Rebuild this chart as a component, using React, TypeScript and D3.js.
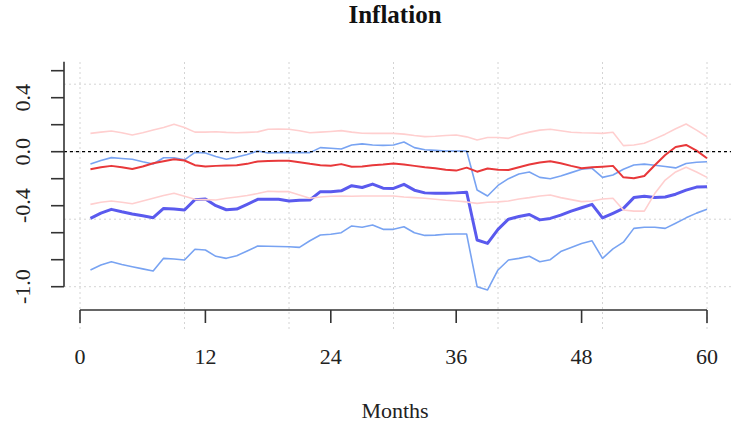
import React from "react";
import * as d3 from "d3";

const months: number[] = d3.range(1, 61);

const redMedian = [
  -0.13, -0.115, -0.105, -0.115, -0.128, -0.11, -0.085, -0.07, -0.056, -0.065,
  -0.1, -0.11, -0.105, -0.102, -0.1, -0.09, -0.072, -0.068, -0.067, -0.067,
  -0.078, -0.09, -0.1, -0.104, -0.092, -0.112, -0.11, -0.1, -0.095, -0.088,
  -0.095, -0.105, -0.115, -0.122, -0.133, -0.14, -0.118, -0.148, -0.125, -0.133,
  -0.136, -0.115, -0.095, -0.08, -0.07, -0.085, -0.105, -0.123, -0.116, -0.111,
  -0.105, -0.19, -0.197, -0.18, -0.1, -0.025, 0.035, 0.05, 0.008, -0.049,
];

const redUpper = [
  0.136, 0.145, 0.153, 0.14, 0.124, 0.14, 0.16, 0.18, 0.203, 0.18,
  0.145, 0.145, 0.148, 0.143, 0.14, 0.143, 0.147, 0.166, 0.168, 0.166,
  0.155, 0.14, 0.145, 0.15, 0.156, 0.145, 0.137, 0.136, 0.136, 0.136,
  0.13, 0.12, 0.112, 0.115, 0.12, 0.124, 0.11, 0.087, 0.105, 0.105,
  0.099, 0.125, 0.145, 0.16, 0.166, 0.155, 0.144, 0.14, 0.138, 0.136,
  0.144, 0.045, 0.05, 0.062, 0.095, 0.13, 0.17, 0.205, 0.16, 0.111,
];

const redLower = [
  -0.39, -0.375, -0.365, -0.375, -0.385, -0.365, -0.345, -0.325, -0.308, -0.33,
  -0.353, -0.355, -0.358, -0.345, -0.335, -0.325, -0.31, -0.293, -0.296, -0.296,
  -0.32, -0.345, -0.335, -0.33, -0.328, -0.33, -0.328, -0.328, -0.328, -0.328,
  -0.335, -0.34, -0.345, -0.352, -0.36, -0.365, -0.372, -0.383, -0.375, -0.372,
  -0.365, -0.35, -0.34, -0.328, -0.321, -0.34, -0.355, -0.37, -0.365, -0.35,
  -0.345, -0.432, -0.44, -0.44, -0.31, -0.21, -0.15, -0.115, -0.15, -0.19,
];

const blueMedian = [
  -0.494, -0.455, -0.427, -0.445, -0.461, -0.475, -0.489, -0.42, -0.425, -0.432,
  -0.355, -0.35, -0.4, -0.43, -0.425, -0.39, -0.353, -0.353, -0.353, -0.365,
  -0.36, -0.358, -0.296, -0.296, -0.29, -0.252, -0.265, -0.24, -0.27, -0.272,
  -0.242, -0.285, -0.305, -0.308, -0.308, -0.305, -0.3, -0.654, -0.679, -0.575,
  -0.5, -0.48, -0.465, -0.505, -0.494, -0.47, -0.44, -0.415, -0.39, -0.49,
  -0.456, -0.42, -0.34, -0.33, -0.34, -0.335, -0.315, -0.285, -0.262, -0.259,
];

const blueUpper = [
  -0.091, -0.065, -0.044, -0.05, -0.056, -0.075, -0.091, -0.045, -0.045, -0.06,
  -0.005, -0.01, -0.035, -0.056, -0.04, -0.02, 0.005, -0.01, -0.007, -0.005,
  -0.007, -0.007, 0.03, 0.025, 0.02, 0.05, 0.058, 0.05, 0.047, 0.05,
  0.072, 0.03, 0.015, 0.01, 0.005, 0.005, 0.005, -0.284, -0.328, -0.25,
  -0.2, -0.165, -0.15, -0.19, -0.2, -0.18, -0.155, -0.13, -0.123, -0.19,
  -0.173, -0.13, -0.099, -0.092, -0.1, -0.11, -0.12, -0.088, -0.078, -0.074,
];

const blueLower = [
  -0.876, -0.84, -0.815, -0.835, -0.852, -0.868, -0.884, -0.79, -0.795, -0.802,
  -0.723, -0.728, -0.775, -0.79, -0.77, -0.735, -0.699, -0.7, -0.702, -0.704,
  -0.709, -0.66, -0.617, -0.612, -0.6, -0.55, -0.56, -0.543, -0.575, -0.575,
  -0.556, -0.6, -0.62, -0.618, -0.612, -0.61, -0.61, -1.0, -1.024, -0.876,
  -0.802, -0.79, -0.775, -0.815, -0.8, -0.74, -0.71, -0.68, -0.66, -0.79,
  -0.72, -0.67, -0.568, -0.56, -0.56, -0.568, -0.53, -0.49, -0.455, -0.427,
];

const xTicks = [0, 12, 24, 36, 48, 60];
const xGrid = [0, 10, 20, 30, 40, 50, 60];
const yTicks = [0.6, 0.4, 0.2, 0.0, -0.2, -0.4, -0.6, -0.8, -1.0];
const yLabels = [0.4, 0.0, -0.4, -1.0];
const yGrid = [0.5, 0.0, -0.5, -1.0];

const W = 741;
const H = 435;

export default function App() {
  const x = d3.scaleLinear().domain([0, 60]).range([80, 707]);
  const y = d3.scaleLinear().domain([0, -1]).range([151.7, 286.7]);
  const line = (vals: number[]) =>
    d3
      .line<number>()
      .x((_, i) => x(months[i]))
      .y((v) => y(v))(vals) as string;

  const serif = "'Liberation Serif', 'Times New Roman', serif";
  const series = [
    { vals: blueUpper, color: "#78a3f2", w: 1.6 },
    { vals: blueLower, color: "#78a3f2", w: 1.6 },
    { vals: blueMedian, color: "#5a5aee", w: 3 },
    { vals: redUpper, color: "#ffcfcf", w: 1.6 },
    { vals: redLower, color: "#ffcfcf", w: 1.6 },
    { vals: redMedian, color: "#e8383a", w: 2 },
  ];

  return (
    <svg
      width={W}
      height={H}
      style={{ position: "absolute", left: 0, top: 0, background: "#fff" }}
    >
      <rect x={0} y={0} width={W} height={H} fill="#fff" />
      {xGrid.map((g) => (
        <line
          key={"xg" + g}
          x1={x(g)}
          x2={x(g)}
          y1={62}
          y2={330}
          stroke="#d4d4d4"
          strokeWidth={1}
          strokeDasharray="2,3"
        />
      ))}
      {yGrid.map((g) => (
        <line
          key={"yg" + g}
          x1={64}
          x2={731}
          y1={y(g)}
          y2={y(g)}
          stroke="#d4d4d4"
          strokeWidth={1}
          strokeDasharray="2,3"
        />
      ))}
      {series.map((s, i) => (
        <path
          key={i}
          d={line(s.vals)}
          fill="none"
          stroke={s.color}
          strokeWidth={s.w}
          strokeLinejoin="round"
        />
      ))}
      <line
        x1={64}
        x2={731}
        y1={y(0)}
        y2={y(0)}
        stroke="#000"
        strokeWidth={1.3}
        strokeDasharray="3,3"
      />
      <line x1={64} x2={64} y1={61.7} y2={y(-1)} stroke="#333" strokeWidth={1.6} />
      {yTicks.map((t) => (
        <line
          key={"yt" + t}
          x1={51}
          x2={64}
          y1={y(t)}
          y2={y(t)}
          stroke="#333"
          strokeWidth={1.6}
        />
      ))}
      {yLabels.map((t) => (
        <text
          key={"yl" + t}
          transform={`translate(30,${y(t)}) rotate(-90)`}
          textAnchor="middle"
          fontFamily={serif}
          fontSize={22}
          fill="#222"
        >
          {t.toFixed(1)}
        </text>
      ))}
      <line x1={x(0)} x2={x(60)} y1={310} y2={310} stroke="#333" strokeWidth={1.6} />
      {xTicks.map((t) => (
        <line
          key={"xt" + t}
          x1={x(t)}
          x2={x(t)}
          y1={310}
          y2={323}
          stroke="#333"
          strokeWidth={1.6}
        />
      ))}
      {xTicks.map((t) => (
        <text
          key={"xl" + t}
          x={x(t)}
          y={364}
          textAnchor="middle"
          fontFamily={serif}
          fontSize={22}
          fill="#222"
        >
          {t}
        </text>
      ))}
      <text
        x={395}
        y={418}
        textAnchor="middle"
        fontFamily={serif}
        fontSize={22}
        fill="#222"
      >
        Months
      </text>
      <text
        x={395}
        y={23}
        textAnchor="middle"
        fontFamily={serif}
        fontWeight="bold"
        fontSize={25}
        fill="#111"
      >
        Inflation
      </text>
    </svg>
  );
}
